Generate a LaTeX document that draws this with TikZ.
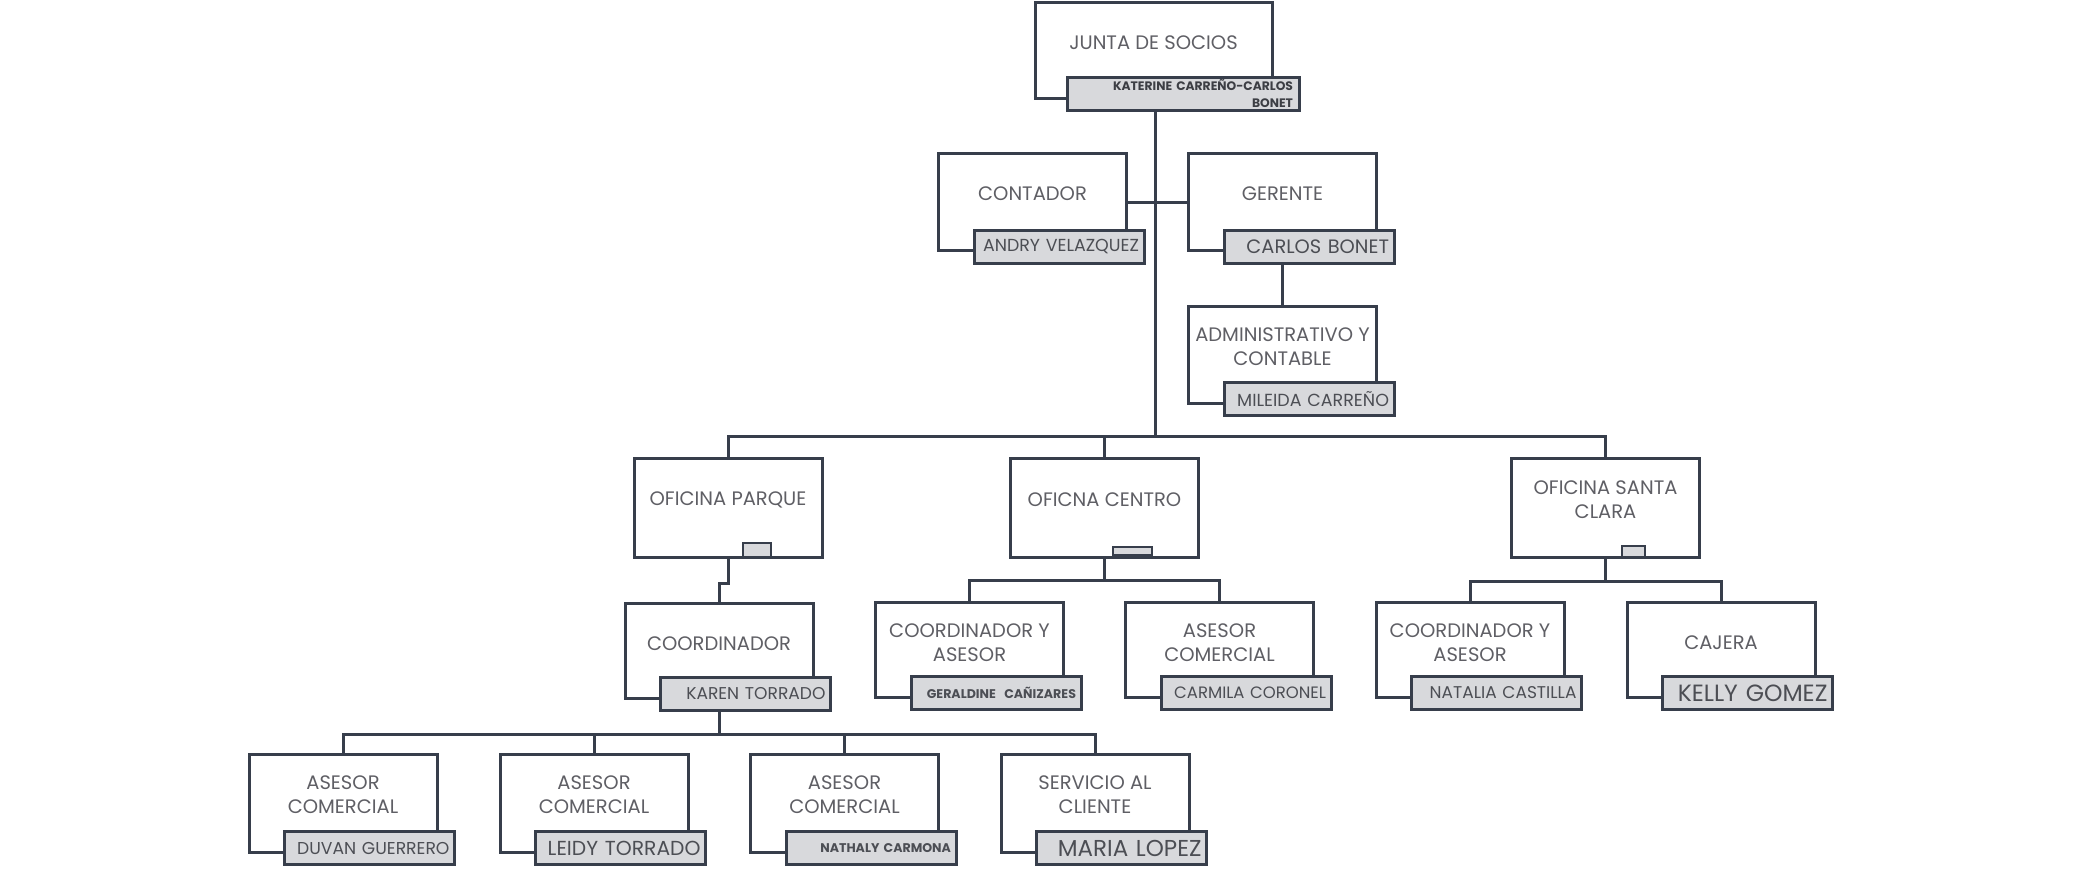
\documentclass[tikz,border=0pt]{standalone}
\usepackage{fontspec}
\setmainfont{Poppins}
\usetikzlibrary{calc}
\definecolor{linec}{RGB}{55,62,75}
\definecolor{titlec}{RGB}{95,95,101}
\definecolor{namec}{RGB}{76,78,84}
\definecolor{namedark}{RGB}{60,62,68}
\definecolor{namefill}{RGB}{216,217,220}
\begin{document}
\begin{tikzpicture}[x=1pt,y=-1pt,
  unitbox/.style={draw=linec,line width=3pt,fill=white,minimum width=188pt,minimum height=97pt,inner sep=0pt},
  title/.style={text=titlec,font=\fontsize{19.5}{24}\selectfont,align=center,inner sep=0pt},
  namebox/.style={draw=linec,line width=3pt,fill=namefill,minimum width=170pt,minimum height=33pt,
    text width=160pt,align=right,inner xsep=5pt,inner ysep=0pt,text=namec,font=\fontsize{17}{18}\selectfont},
  nsize/.style={font=\fontsize{#1}{#1}\selectfont},
  phbox/.style={draw=linec,line width=2.5pt,fill=namefill,inner sep=0pt},
  conn/.style={draw=linec,line width=3pt}]
\useasboundingbox (0,0) rectangle (2084,879);
\fill[white] (0,0) rectangle (2084,879);

% ---- top
\node[unitbox,minimum width=237pt,minimum height=96pt] (junta) at (1153.5,50) {};
\node[title] (junta-t) at ($(junta.north)+(0,42.5)$) {JUNTA DE SOCIOS};
\node[namebox,minimum width=232pt,text width=220pt,text=namedark,font=\fontsize{12.3}{17}\selectfont\bfseries] (jname) at (1183,94) {KATERINE CARREÑO-CARLOS\\BONET};

\node[unitbox] (contador) at (1032.5,202) {};
\node[title] (contador-t) at ($(contador.north)+(0,42)$) {CONTADOR};
\node[namebox,nsize=17.4] (ctname) at ($(contador.south west)+(122,-5.5)$) {ANDRY VELAZQUEZ};

\node[unitbox] (gerente) at (1282.5,202) {};
\node[title] (gerente-t) at ($(gerente.north)+(0,42)$) {GERENTE};
\node[namebox,nsize=19.4] (gname) at ($(gerente.south west)+(122,-5.5)$) {CARLOS BONET};

\node[unitbox] (admin) at (1282.5,354.5) {};
\node[title] (admin-t) at ($(admin.north)+(0,42)$) {ADMINISTRATIVO Y\\CONTABLE};
\node[namebox,nsize=17.5] (aname) at ($(admin.south west)+(122,-5.5)$) {MILEIDA CARREÑO};

% ---- offices
\node[unitbox,minimum height=99pt] (parque) at (728,507.5) {};
\node[title] (parque-t) at ($(parque.north)+(0,43)$) {OFICINA PARQUE};
\node[phbox,minimum width=28pt,minimum height=14pt] (pph) at (757,550) {};

\node[unitbox,minimum height=99pt] (centro) at (1104.5,507.5) {};
\node[title] (centro-t) at ($(centro.north)+(0,43)$) {OFICNA CENTRO};
\node[phbox,minimum width=39pt,minimum height=8pt] (cph) at (1132.5,551) {};

\node[unitbox,minimum height=99pt] (stclara) at (1605.5,507.5) {};
\node[title] (stclara-t) at ($(stclara.north)+(0,43)$) {OFICINA SANTA\\CLARA};
\node[phbox,minimum width=23pt,minimum height=11pt] (sph) at (1633.5,551.5) {};

% ---- third level
\node[unitbox,minimum height=95pt] (coord) at (719,650.5) {};
\node[title] (coord-t) at ($(coord.north)+(0,42)$) {COORDINADOR};
\node[namebox,nsize=17.1] (coname) at ($(coord.south west)+(122,-5.5)$) {KAREN TORRADO};

\node[unitbox,minimum height=95pt] (cya) at (969.5,649.5) {};
\node[title] (cya-t) at ($(cya.north)+(0,42)$) {COORDINADOR Y\\ASESOR};
\node[namebox,font=\fontsize{12.6}{16}\selectfont\bfseries] (cyname) at ($(cya.south west)+(122,-5.5)$) {GERALDINE \ CAÑIZARES};

\node[unitbox,minimum height=95pt] (asc) at (1219.5,649.5) {};
\node[title] (asc-t) at ($(asc.north)+(0,42)$) {ASESOR\\COMERCIAL};
\node[namebox,nsize=16.5] (acname) at ($(asc.south west)+(122,-5.5)$) {CARMILA CORONEL};

\node[unitbox,minimum height=95pt] (sya) at (1470,649.5) {};
\node[title] (sya-t) at ($(sya.north)+(0,42)$) {COORDINADOR Y\\ASESOR};
\node[namebox,nsize=17] (syname) at ($(sya.south west)+(122,-5.5)$) {NATALIA CASTILLA};

\node[unitbox,minimum height=95pt] (cajera) at (1721,649.5) {};
\node[title] (cajera-t) at ($(cajera.north)+(0,42)$) {CAJERA};
\node[namebox,nsize=23.5] (cjname) at ($(cajera.south west)+(122,-5.5)$) {KELLY GOMEZ};

% ---- bottom level
\node[unitbox,minimum height=98pt] (a1) at (343,803) {};
\node[title] (a1-t) at ($(a1.north)+(0,42)$) {ASESOR\\COMERCIAL};
\node[namebox,nsize=17.2] (a1name) at ($(a1.south west)+(122,-5.5)$) {DUVAN GUERRERO};

\node[unitbox,minimum height=98pt] (a2) at (594,803) {};
\node[title] (a2-t) at ($(a2.north)+(0,42)$) {ASESOR\\COMERCIAL};
\node[namebox,nsize=20.3] (a2name) at ($(a2.south west)+(122,-5.5)$) {LEIDY TORRADO};

\node[unitbox,minimum height=98pt] (a3) at (844.5,803) {};
\node[title] (a3-t) at ($(a3.north)+(0,42)$) {ASESOR\\COMERCIAL};
\node[namebox,font=\fontsize{12.6}{16}\selectfont\bfseries] (a3name) at ($(a3.south west)+(122,-5.5)$) {NATHALY CARMONA};

\node[unitbox,minimum height=98pt] (serv) at (1095,803) {};
\node[title] (serv-t) at ($(serv.north)+(0,42)$) {SERVICIO AL\\CLIENTE};
\node[namebox,nsize=23] (svname) at ($(serv.south west)+(122,-5.5)$) {MARIA LOPEZ};

% ---- connectors
\coordinate (hub) at (1155,436);
\draw[conn] (hub |- jname.south) -- (hub);
\draw[conn] (contador.east) -- (gerente.west);
\draw[conn] (admin.north |- gname.south) -- (admin.north);
\draw[conn] (parque.north) |- (hub) -| (stclara.north);
\draw[conn] (centro.north) -- (centro.north |- hub);
\draw[conn] (parque.south) -- ++(0,25) -| (coord.north);
\draw[conn] (centro.south) -- ++(0,22) coordinate (cb);
\draw[conn] (cya.north) |- (cb) -| (asc.north);
\draw[conn] (stclara.south) -- ++(0,23) coordinate (sb);
\draw[conn] (sya.north) |- (sb) -| (cajera.north);
\draw[conn] (coord.south |- coname.south) -- ++(0,22) coordinate (ab);
\draw[conn] (a1.north) |- (ab) -| (serv.north);
\draw[conn] (a2.north) -- (a2.north |- ab);
\draw[conn] (a3.north) -- (a3.north |- ab);
\end{tikzpicture}
\end{document}
